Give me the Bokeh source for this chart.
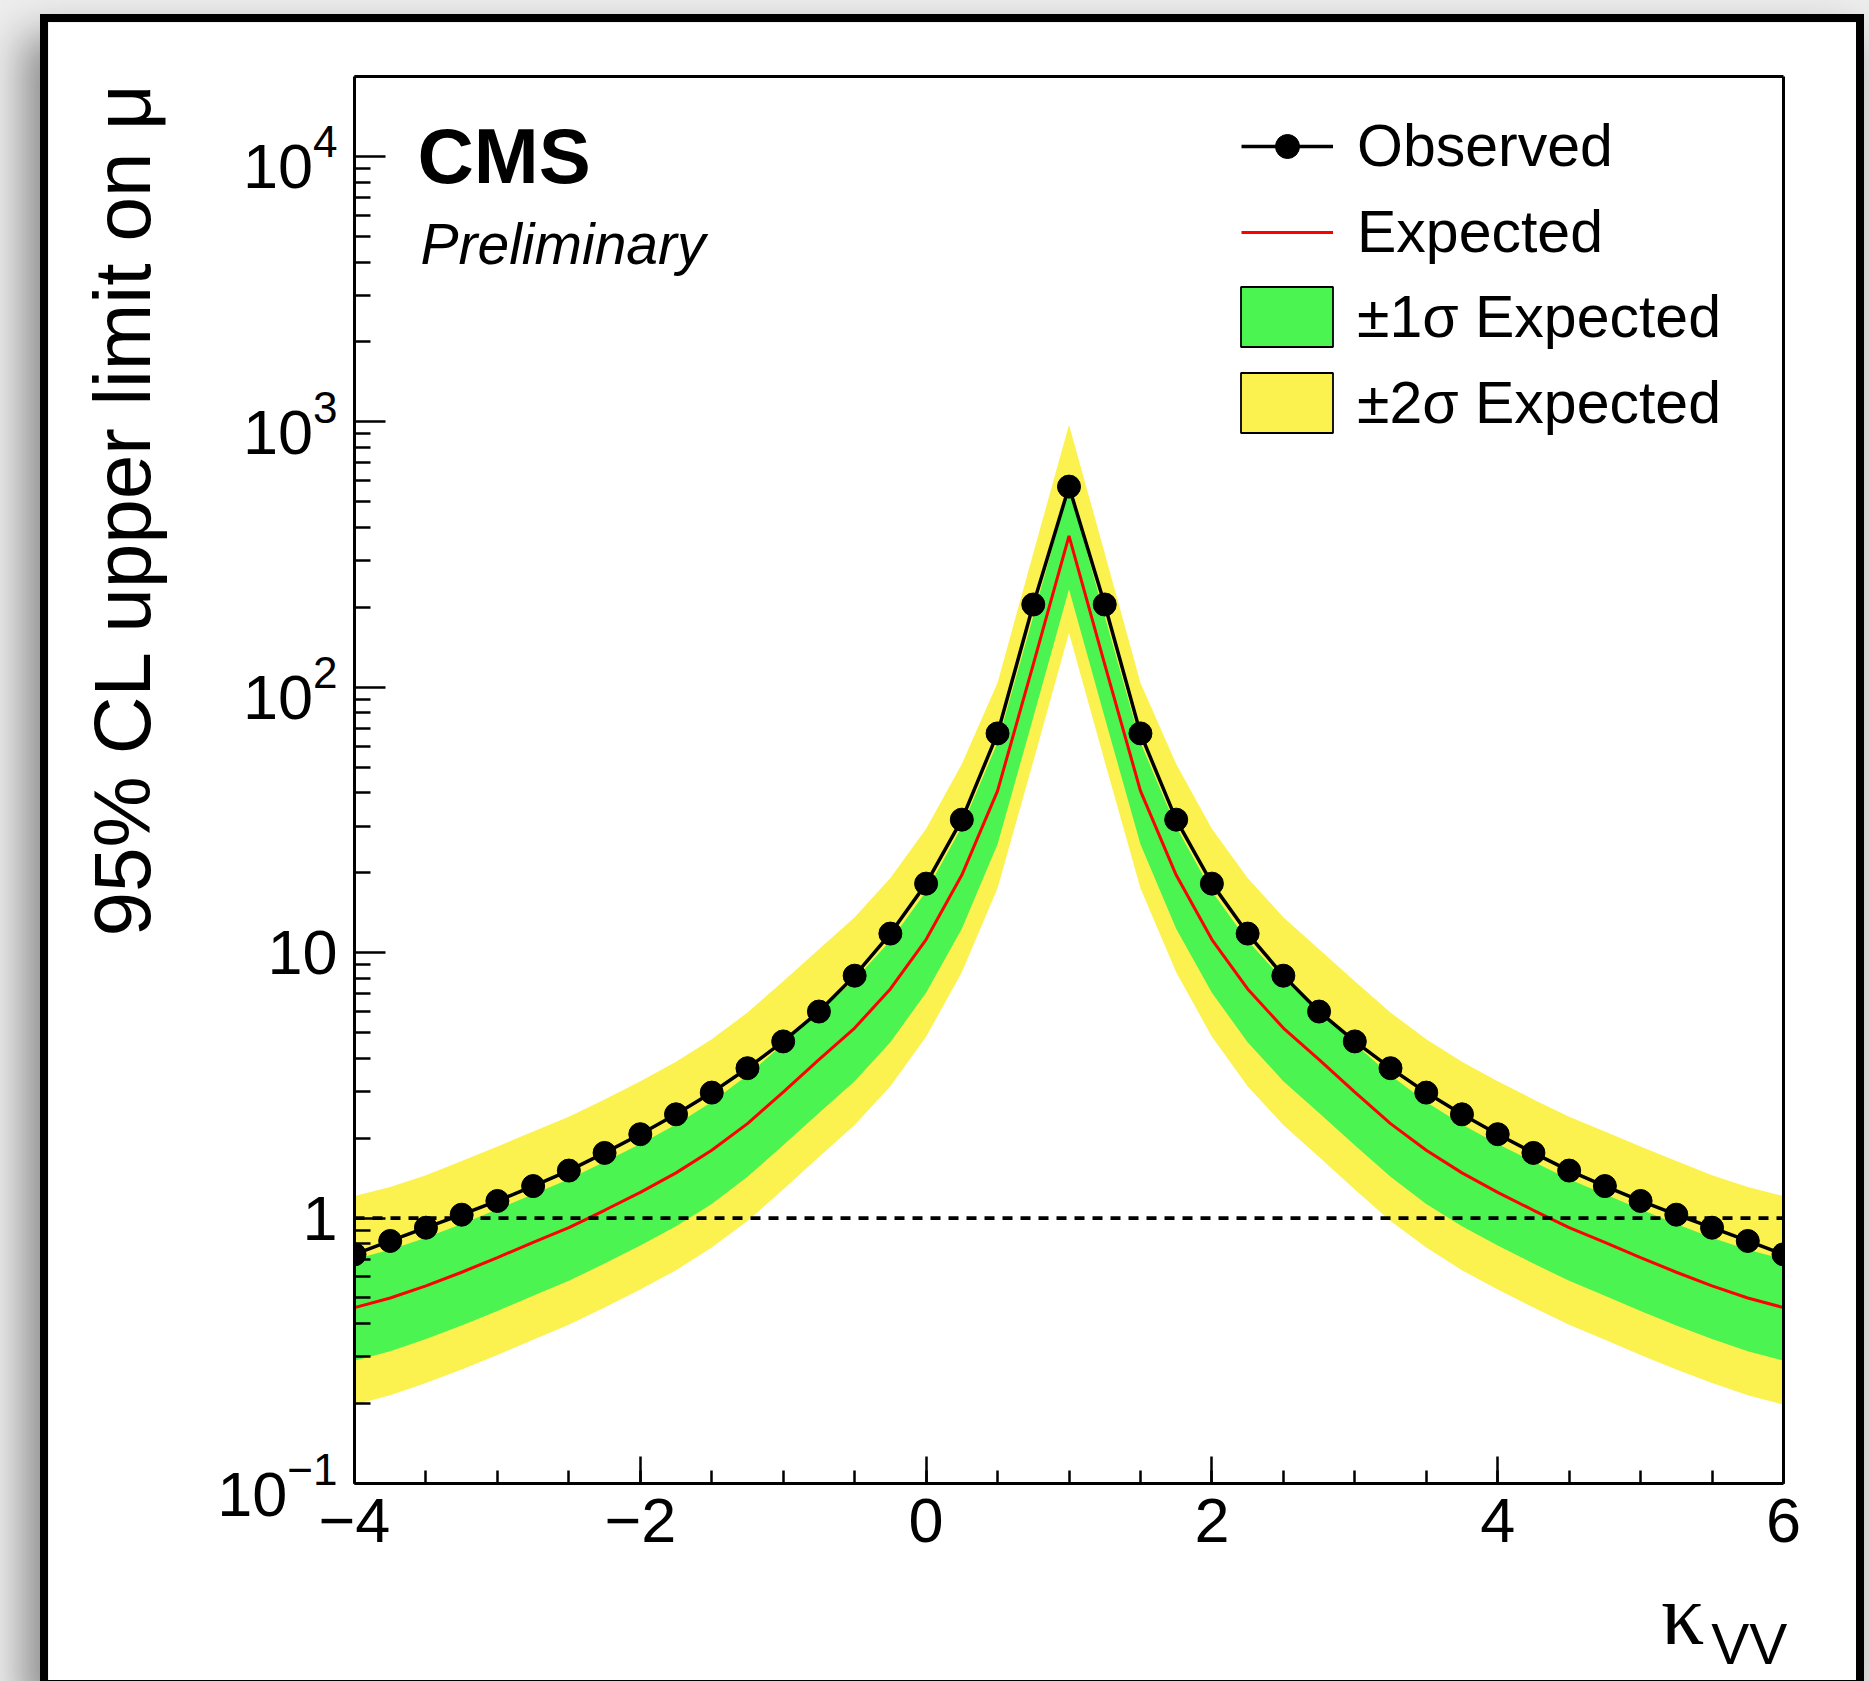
from bokeh.plotting import figure
from bokeh.models import (Range1d, LinearAxis, LogAxis, SingleIntervalTicker, FixedTicker,
                          Span, Label, Legend, LegendItem)
from bokeh.embed import file_html
from bokeh.resources import INLINE

try:
    from bokeh.models import GlobalInlineStyleSheet
except ImportError:  # pragma: no cover
    GlobalInlineStyleSheet = None

# ---------------- data ----------------
kappa = [-4.0, -3.75, -3.5, -3.25, -3.0, -2.75, -2.5, -2.25, -2.0, -1.75, -1.5, -1.25, -1.0,
         -0.75, -0.5, -0.25, 0.0, 0.25, 0.5, 0.75, 1.0, 1.25, 1.5, 1.75, 2.0, 2.25, 2.5, 2.75,
         3.0, 3.25, 3.5, 3.75, 4.0, 4.25, 4.5, 4.75, 5.0, 5.25, 5.5, 5.75, 6.0]

observed = [0.73, 0.82, 0.92, 1.03, 1.16, 1.32, 1.51, 1.76, 2.07, 2.46, 2.97, 3.67, 4.63,
            6.0, 8.19, 11.8, 18.2, 31.7, 67.0, 205.0, 570.0, 205.0, 67.0, 31.7, 18.2, 11.8,
            8.19, 6.0, 4.63, 3.67, 2.97, 2.46, 2.07, 1.76, 1.51, 1.32, 1.16, 1.03, 0.92, 0.82, 0.73]

expected = [0.46, 0.50, 0.555, 0.625, 0.71, 0.81, 0.92, 1.07, 1.25, 1.48, 1.80, 2.27, 2.98,
            3.95, 5.2, 7.3, 11.2, 19.6, 40.7, 122.0, 372.0, 122.0, 40.7, 19.6, 11.2, 7.3,
            5.2, 3.95, 2.98, 2.27, 1.80, 1.48, 1.25, 1.07, 0.92, 0.81, 0.71, 0.625, 0.555, 0.50, 0.46]

minus2 = [0.198, 0.215, 0.239, 0.269, 0.305, 0.348, 0.396, 0.46, 0.538, 0.636, 0.774, 0.976, 1.28,
          1.70, 2.24, 3.14, 4.82, 8.43, 17.5, 52.5, 160.0, 52.5, 17.5, 8.43, 4.82, 3.14,
          2.24, 1.70, 1.28, 0.976, 0.774, 0.636, 0.538, 0.46, 0.396, 0.348, 0.305, 0.269, 0.239, 0.215, 0.198]

minus1 = [0.29, 0.315, 0.35, 0.394, 0.447, 0.51, 0.58, 0.674, 0.788, 0.932, 1.13, 1.43, 1.88,
          2.49, 3.28, 4.60, 7.06, 12.3, 25.6, 76.9, 234.0, 76.9, 25.6, 12.3, 7.06, 4.60,
          3.28, 2.49, 1.88, 1.43, 1.13, 0.932, 0.788, 0.674, 0.58, 0.51, 0.447, 0.394, 0.35, 0.315, 0.29]

plus1 = [0.70, 0.76, 0.844, 0.95, 1.08, 1.23, 1.40, 1.63, 1.90, 2.25, 2.74, 3.45, 4.53,
         6.0, 7.90, 11.1, 17.0, 29.8, 61.9, 185.0, 565.0, 185.0, 61.9, 29.8, 17.0, 11.1,
         7.90, 6.0, 4.53, 3.45, 2.74, 2.25, 1.90, 1.63, 1.40, 1.23, 1.08, 0.95, 0.844, 0.76, 0.70]

plus2 = [1.21, 1.31, 1.45, 1.64, 1.86, 2.12, 2.41, 2.80, 3.28, 3.88, 4.72, 5.95, 7.81,
         10.3, 13.6, 19.1, 29.3, 51.4, 104.0, 320.0, 975.0, 320.0, 104.0, 51.4, 29.3, 19.1,
         13.6, 10.3, 7.81, 5.95, 4.72, 3.88, 3.28, 2.80, 2.41, 2.12, 1.86, 1.64, 1.45, 1.31, 1.21]

reference_mu = 1.0

x_tick_labels = {-4: "\u22124", -2: "\u22122"}
y_major = [0.1, 1, 10, 100, 1000, 10000]
y_minor = [m * 10.0 ** e for e in range(-1, 5) for m in range(2, 10) if m * 10.0 ** e <= 2e4]
y_tick_labels = {1: "1", 10: "10"}

y_title = "95% CL upper limit on \u03bc"
x_title_main = "\u03ba"
x_title_sub = "VV"
legend_labels = ["Observed", "Expected", "\u00b11\u03c3 Expected", "\u00b12\u03c3 Expected"]

# ---------------- style / layout ----------------
GREEN = "#4bf450"
YELLOW = "#fbf250"
RED = "#ff0000"
FONT = "Liberation Sans"

OX, OY = 48, 22                      # page offset of the white panel
W, H = 1808, 1658                    # white panel (inside the black window frame)
FL, FR, FT, FB = 354 - OX, 1783 - OX, 76 - OY, 1483 - OY   # plot frame in canvas px

p = figure(width=W, height=H, x_range=Range1d(-4, 6), y_range=Range1d(0.1, 2e4),
           y_axis_type="log", output_backend="svg", toolbar_location=None, title=None,
           min_border_left=FL, min_border_right=W - FR, min_border_top=FT,
           min_border_bottom=H - FB, border_fill_color="white",
           background_fill_color="white", outline_line_color=None)
p.grid.visible = False
p.styles = {"margin-left": f"{OX}px", "margin-top": f"{OY}px",
            "box-shadow": "0 0 0 8px #000000, -14px 24px 40px 10px rgba(0,0,0,0.42)"}
if GlobalInlineStyleSheet is not None:
    p.stylesheets = [GlobalInlineStyleSheet(css="html, body { background-color: #ededed; }")]


def fy(page_y):
    """page y -> screen units relative to the plot frame (origin bottom-left)"""
    return (FB + OY) - page_y


def fx(page_x):
    return page_x - (FL + OX)


# ---------------- data renderers ----------------
p.varea(x=kappa, y1=minus2, y2=plus2, fill_color=YELLOW)
p.varea(x=kappa, y1=minus1, y2=plus1, fill_color=GREEN)
p.add_layout(Span(location=reference_mu, dimension="width", line_color="black",
                  line_width=3.8, line_dash="10 8"))
r_exp = p.line(kappa, expected, line_color=RED, line_width=3)
r_obs_l = p.line(kappa, observed, line_color="black", line_width=3.5)
r_obs_p = p.scatter(kappa, observed, size=23, fill_color="black", line_color="black")

# legend proxies (nothing drawn in the plot)
nan = float("nan")
r_g = p.quad(left=[nan], right=[nan], top=[nan], bottom=[nan], fill_color=GREEN,
             line_color="black", line_width=1.8)
r_y = p.quad(left=[nan], right=[nan], top=[nan], bottom=[nan], fill_color=YELLOW,
             line_color="black", line_width=1.8)

legend_common = dict(padding=0, margin=0, border_line_color=None, background_fill_alpha=0.0,
                     label_text_font=FONT, label_text_font_size="59px",
                     label_text_color="black")
legend_lines = Legend(items=[LegendItem(label=legend_labels[0], renderers=[r_obs_l, r_obs_p]),
                             LegendItem(label=legend_labels[1], renderers=[r_exp])],
                      location=(fx(1241), fy(265.7)), glyph_width=92, glyph_height=60,
                      label_standoff=24, spacing=18, label_height=60, **legend_common)
legend_boxes = Legend(items=[LegendItem(label=legend_labels[2], renderers=[r_g]),
                             LegendItem(label=legend_labels[3], renderers=[r_y])],
                      location=(fx(1229), fy(440.4)), glyph_width=115, glyph_height=75,
                      label_standoff=13, spacing=11, label_height=60, **legend_common)
p.add_layout(legend_lines)
p.add_layout(legend_boxes)

# ---------------- axes ----------------
xa = p.xaxis[0]
xa.ticker = SingleIntervalTicker(interval=2, num_minor_ticks=4)
xa.major_label_overrides = x_tick_labels
ya = p.yaxis[0]
ya.ticker = FixedTicker(ticks=y_major, minor_ticks=y_minor)
ya.major_label_overrides = y_tick_labels

for ax in (xa, ya):
    ax.axis_line_width = 3
    ax.axis_line_color = "black"
    ax.major_tick_out = 0
    ax.minor_tick_out = 0
    ax.major_tick_line_width = 2.5
    ax.minor_tick_line_width = 2.5
    ax.major_label_text_font = FONT
    ax.major_label_text_font_size = "63px"
    ax.major_label_text_color = "black"
xa.major_tick_in = 27
xa.minor_tick_in = 13
xa.major_label_standoff = 15
ya.major_tick_in = 31
ya.minor_tick_in = 16
ya.major_label_standoff = 17

top_ax = LinearAxis(ticker=FixedTicker(ticks=[]), axis_line_width=3, major_tick_out=0,
                    minor_tick_out=0, major_tick_in=0, minor_tick_in=0)
right_ax = LogAxis(ticker=FixedTicker(ticks=[]), axis_line_width=3, major_tick_out=0,
                   minor_tick_out=0, major_tick_in=0, minor_tick_in=0)
p.add_layout(top_ax, "above")
p.add_layout(right_ax, "right")


def text_axis(kind, pos, text, font, size, standoff, orientation="horizontal"):
    return kind(ticker=FixedTicker(ticks=[pos], minor_ticks=[]),
                major_label_overrides={pos: text}, axis_line_color=None,
                major_tick_line_color=None, minor_tick_line_color=None,
                major_tick_out=0, minor_tick_out=0, major_tick_in=0, minor_tick_in=0,
                major_label_text_font=font, major_label_text_font_size=size,
                major_label_text_color="black", major_label_standoff=standoff,
                major_label_orientation=orientation)


# y-axis title (rotated), centred at the value 470 on the log scale
p.add_layout(text_axis(LogAxis, 470, y_title, FONT, "80px", 47, "vertical"), "left")
# x-axis title kappa_VV (subscript placed as a second, overlapping band)
p.add_layout(text_axis(LinearAxis, 5.76, x_title_sub, FONT, "57px", 67), "below")
p.add_layout(text_axis(LinearAxis, 5.295, x_title_main, "Liberation Serif", "86px", -112), "below")

# ---------------- texts inside the frame ----------------
p.add_layout(Label(x=fx(417), y=fy(155.4), x_units="screen", y_units="screen", text="CMS",
                   text_font=FONT, text_font_style="bold", text_font_size="78px",
                   text_color="black", text_baseline="alphabetic", text_align="left"))
p.add_layout(Label(x=fx(420), y=fy(243.3), x_units="screen", y_units="screen",
                   text="Preliminary", text_font=FONT, text_font_style="italic",
                   text_font_size="57px", text_color="black", text_baseline="alphabetic",
                   text_align="left"))

open("out.html", "w").write(file_html(p, INLINE))
